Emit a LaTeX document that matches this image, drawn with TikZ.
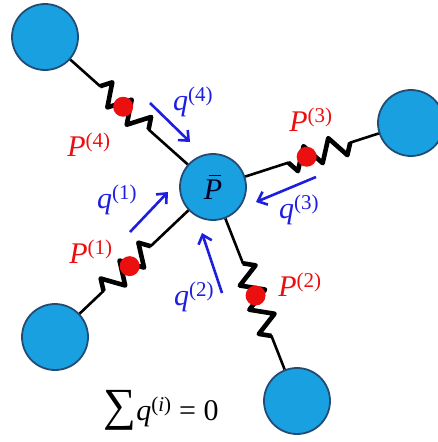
\documentclass[tikz,border=0pt]{standalone}
\usepackage{fontspec}
\setmainfont{Liberation Serif}
\usetikzlibrary{arrows.meta, decorations.pathmorphing}
\definecolor{ballblue}{RGB}{25,160,225}
\definecolor{balledge}{RGB}{35,75,115}
\definecolor{qblue}{RGB}{30,30,225}
\definecolor{pred}{RGB}{235,15,15}
\newcommand{\Plbl}[1]{\textit{P}\textsuperscript{(#1)}}
\newcommand{\qlbl}[1]{\textit{q}\textsuperscript{(#1)}}
\newcommand{\Pbar}{\textit{P}\llap{\rule[0.76em]{0.42em}{0.05em}\hspace{0.03em}}}
\tikzset{
    ball/.style={circle, draw=balledge, fill=ballblue, line width=1.8pt, minimum size=66pt, inner sep=0pt},
    link/.style={line width=2.6pt, black, line join=round},
    spring/.style 2 args={link, decorate, decoration={zigzag, segment length=26pt, amplitude=11pt, pre length=#1, post length=#2}},
    coil/.style 2 args={spring={#1}{#2}, line width=4.6pt, decoration={pre=moveto, post=moveto}},
    pdot/.style={circle, fill=pred, minimum size=20pt, inner sep=0pt},
    qarrow/.style={-{Straight Barb[length=8pt, width=14pt]}, line width=2.6pt, qblue},
    plabel/.style={text=pred, font=\fontsize{30}{34}\selectfont},
    qlabel/.style={text=qblue, font=\fontsize{30}{34}\selectfont}
}

\begin{document}
\begin{tikzpicture}[x=1pt, y=-1pt]
    \useasboundingbox (0,0) rectangle (437,442);

    % --- MASSES ---
    \node[ball, font=\fontsize{30}{34}\selectfont, text=black!85!blue] (P) at (213,187) {\Pbar};
    \node[ball] (c4) at (45,37) {};
    \node[ball] (c3) at (411,123) {};
    \node[ball] (c1) at (55,337) {};
    \node[ball] (c2) at (297,401) {};

    % --- SPRINGS ---
    \draw[spring={40pt}{44pt}] (c4) -- (P);
    \draw[spring={30pt}{33pt}] (c3) -- (P);
    \draw[spring={33pt}{42pt}] (c1) -- (P);
    \draw[spring={36pt}{48pt}] (c2) -- (P);
    % thicker coils on top
    \draw[coil={40pt}{44pt}] (c4) -- (P);
    \draw[coil={30pt}{33pt}] (c3) -- (P);
    \draw[coil={33pt}{42pt}] (c1) -- (P);
    \draw[coil={36pt}{48pt}] (c2) -- (P);

    % pressure points in the middle of each spring
    \path (c4) -- node[pdot, pos=0.45] (d4) {} (P);
    \path (c3) -- node[pdot, pos=0.54] (d3) {} (P);
    \path (c1) -- node[pdot, pos=0.46] (d1) {} (P);
    \path (c2) -- node[pdot, pos=0.49] (d2) {} (P);

    % --- FLUXES ---
    \coordinate (q4s) at (150,103);
    \coordinate (q4e) at (190,142);
    \coordinate (q1s) at (130,232);
    \coordinate (q1e) at (168,192);
    \coordinate (q2s) at (222,293);
    \coordinate (q2e) at (202,233);
    \coordinate (q3s) at (316,177);
    \coordinate (q3e) at (256,202);
    \draw[qarrow] (q4s) -- (q4e);
    \draw[qarrow] (q1s) -- (q1e);
    \draw[qarrow] (q2s) -- (q2e);
    \draw[qarrow] (q3s) -- (q3e);

    % --- LABELS ---
    \node[plabel] (lp4) at (89,145) {\Plbl{4}};
    \node[plabel] (lp3) at (311,120) {\Plbl{3}};
    \node[plabel] (lp1) at (91,252) {\Plbl{1}};
    \node[plabel] (lp2) at (300,285) {\Plbl{2}};
    \node[qlabel] (lq4) at (193,102) {\qlbl{4}};
    \node[qlabel] (lq3) at (299,210) {\qlbl{3}};
    \node[qlabel] (lq1) at (117,200) {\qlbl{1}};
    \node[qlabel] (lq2) at (194,297) {\qlbl{2}};

    \node[font=\fontsize{30}{34}\selectfont] (sum) at (161,410) {{\fontsize{46}{46}\selectfont ∑}\textit{q}\textsuperscript{(\textit{i})} = 0};
\end{tikzpicture}
\end{document}
